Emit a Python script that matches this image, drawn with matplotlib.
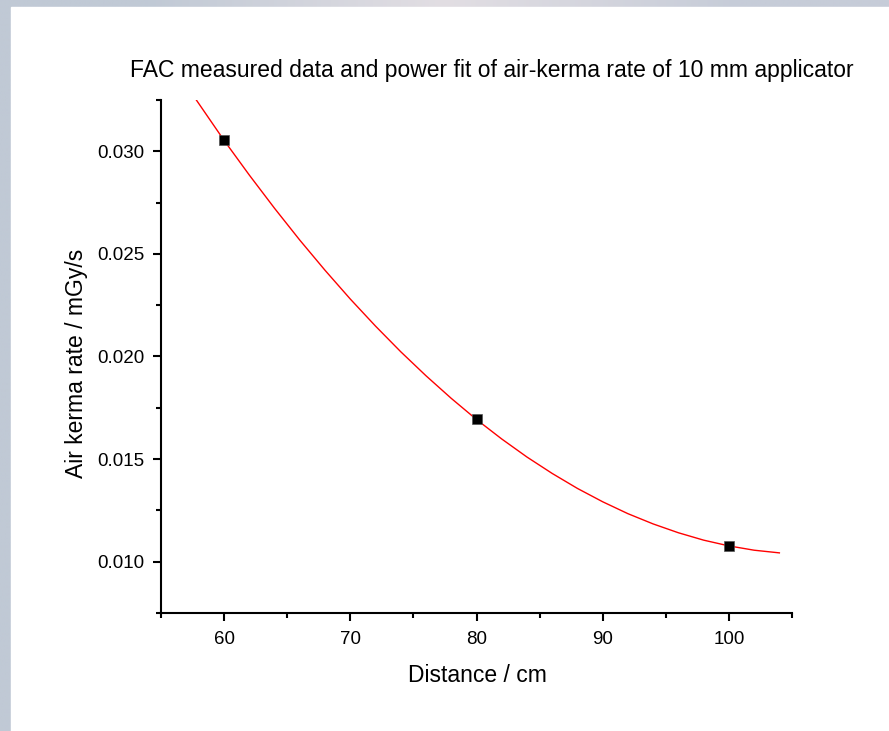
import matplotlib
matplotlib.use("Agg")
import matplotlib.pyplot as plt
from matplotlib.ticker import MultipleLocator, FormatStrFormatter
from matplotlib.patches import Rectangle
import numpy as np

plt.rcParams['font.family'] = ['Liberation Sans', 'DejaVu Sans']

# measured points
distance = [60, 80, 100]
kerma_rate = [0.03053, 0.01693, 0.01077]

# fit curve
fit_x = [57.8, 60, 62, 64, 66, 68, 70, 72, 74, 76, 78, 80, 82, 84, 86, 88,
         90, 92, 94, 96, 98, 100, 102, 104]
fit_y = [0.03250, 0.03053, 0.02884, 0.02722, 0.02567, 0.02420, 0.02280,
         0.02148, 0.02023, 0.01906, 0.01796, 0.01693, 0.01598, 0.01510,
         0.01430, 0.01357, 0.01292, 0.01234, 0.01184, 0.01141, 0.01105,
         0.01077, 0.01056, 0.01043]

title = "FAC measured data and power fit of air-kerma rate of 10 mm applicator"

fig = plt.figure(figsize=(8.89, 7.31), dpi=100)

# bluish frame behind the white panel
bg = fig.add_axes([0, 0, 1, 1], zorder=-10)
grad = np.zeros((2, 3, 3))
grad[:, 0] = [192, 201, 213]
grad[:, 1] = [226, 222, 227]
grad[:, 2] = [198, 204, 216]
bg.imshow(grad / 255.0, aspect='auto', extent=[0, 1, 0, 1], interpolation='bilinear')
bg.add_patch(Rectangle((11 / 889, 0), 1, 1 - 7 / 731, color='white'))
bg.set_xlim(0, 1)
bg.set_ylim(0, 1)
bg.axis('off')

ax = fig.add_axes([161 / 889, 118 / 731, 631 / 889, 513 / 731])
ax.set_facecolor('none')

ax.plot(fit_x, fit_y, color='red', lw=1.0, zorder=2)
ax.plot(distance, kerma_rate, ls='none', marker='s', ms=7.5, color='black',
        markeredgecolor='#555555', markeredgewidth=0.5, zorder=3)

ax.set_xlim(55, 105)
ax.set_ylim(0.0075, 0.0325)
ax.xaxis.set_major_locator(MultipleLocator(10))
ax.xaxis.set_minor_locator(MultipleLocator(5))
ax.yaxis.set_major_locator(MultipleLocator(0.005))
ax.yaxis.set_minor_locator(MultipleLocator(0.0025))
ax.yaxis.set_major_formatter(FormatStrFormatter('%.3f'))

for s in ['top', 'right']:
    ax.spines[s].set_visible(False)
for s in ['left', 'bottom']:
    ax.spines[s].set_linewidth(1.5)

ax.tick_params(which='major', length=6, width=1.5, direction='out',
               labelsize=13.5)
ax.tick_params(axis='x', which='major', pad=7)
ax.tick_params(axis='y', which='major', pad=6)
ax.tick_params(which='minor', length=3.5, width=1.5, direction='out')

fig.text(477 / 889, 1 - 675 / 731, "Distance / cm", fontsize=16.5,
         ha='center', va='center')
fig.text(76 / 889, 1 - 363 / 731, "Air kerma rate / mGy/s", fontsize=16.5,
         ha='center', va='center', rotation=90)
fig.text(492 / 889, 1 - 70 / 731, title, fontsize=16.5, ha='center', va='center')

fig.savefig("out.png", dpi=100)
